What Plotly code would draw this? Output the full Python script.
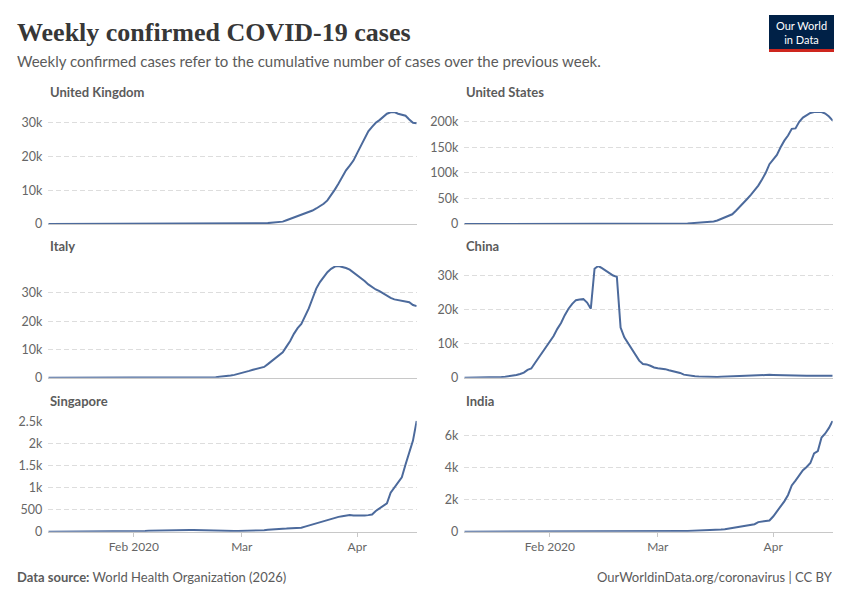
import plotly.graph_objects as go
import pandas as pd

# ---------------- data ----------------
dates = pd.date_range("2020-01-09", "2020-04-17").strftime("%Y-%m-%d").tolist()

united_kingdom = [
    0, 0, 0, 0, 0, 0, 0, 0, 0, 0,
    0, 0, 0, 0, 0, 0, 0, 0, 0, 0,
    0, 0, 2, 2, 2, 2, 2, 2, 2, 3,
    1, 1, 6, 6, 6, 6, 7, 1, 1, 1,
    0, 0, 0, 1, 1, 4, 9, 10, 15, 20,
    25, 30, 35, 40, 60, 80, 110, 160, 200, 270,
    330, 400, 480, 700, 1100, 1500, 2000, 2400, 2700, 3100,
    3500, 4000, 4600, 5200, 6000, 7000, 8500, 10200, 12000, 14000,
    15900, 17300, 18800, 21000, 23300, 25500, 27500, 28800, 30000, 30800,
    31700, 32700, 33100, 33200, 32700, 32300, 32100, 31000, 30000, 29900,
]
united_states = [
    0, 0, 0, 0, 0, 0, 0, 0, 0, 0,
    0, 0, 1, 1, 1, 1, 1, 2, 2, 3,
    4, 4, 5, 5, 6, 6, 7, 7, 7, 6,
    6, 7, 7, 8, 7, 7, 7, 6, 6, 6,
    8, 8, 8, 10, 10, 20, 40, 50, 55, 55,
    60, 40, 50, 70, 100, 150, 250, 400, 600, 900,
    1200, 1600, 2000, 2400, 2800, 3100, 3700, 5000, 6800, 9500,
    12500, 15500, 19000, 26000, 33000, 41000, 49000, 57000, 65000, 75000,
    87000, 100000, 117000, 125000, 135000, 150000, 163000, 173000, 186000, 187000,
    200000, 208000, 213000, 217000, 219000, 219000, 219000, 216000, 210000, 202000,
]
italy = [
    0, 0, 0, 0, 0, 0, 0, 0, 0, 0,
    0, 0, 0, 0, 0, 0, 0, 0, 0, 0,
    0, 0, 0, 2, 2, 2, 2, 2, 2, 2,
    3, 3, 3, 3, 3, 3, 3, 1, 1, 1,
    0, 0, 0, 20, 60, 150, 300, 400, 600, 800,
    1000, 1300, 1600, 2000, 2400, 2800, 3100, 3500, 3800, 4800,
    5800, 6800, 7800, 9000, 11000, 13000, 15500, 17500, 19000, 21500,
    24500, 28000, 31500, 33800, 35500, 37300, 38500, 39300, 39500, 39200,
    38800, 38200, 37200, 36500, 35300, 34200, 33000, 32000, 31200, 30600,
    29700, 28800, 28200, 27700, 27500, 27300, 26900, 26700, 25700, 25300,
]
china = [
    0, 0, 0, 0, 0, 0, 0, 10, 20, 30,
    200, 290, 400, 550, 800, 1100, 1500, 2300, 2700, 4300,
    5900, 7400, 9000, 10600, 12200, 14300, 16000, 18300, 20200, 21600,
    22700, 22900, 23000, 22000, 20200, 31900, 32700, 32100, 31400, 30600,
    29900, 29500, 14700, 11800, 10000, 8300, 6500, 5000, 4000, 3900,
    3500, 3000, 2800, 2700, 2500, 2200, 2000, 1800, 1400, 900,
    700, 550, 450, 380, 320, 250, 200, 180, 200, 250,
    300, 350, 400, 500, 580, 650, 720, 780, 820, 850,
    870, 860, 840, 800, 750, 700, 640, 600, 570, 550,
    540, 540, 560, 580, 600, 600, 590, 580, 560, 540,
]
singapore = [
    0, 0, 0, 0, 0, 0, 0, 0, 0, 0,
    0, 0, 0, 0, 1, 3, 4, 7, 10, 13,
    13, 15, 15, 15, 14, 12, 16, 21, 24, 27,
    30, 32, 33, 33, 30, 35, 38, 40, 40, 38,
    35, 30, 25, 20, 18, 15, 13, 12, 12, 13,
    14, 14, 15, 15, 16, 18, 20, 25, 35, 45,
    55, 60, 65, 68, 70, 72, 76, 80, 90, 115,
    140, 165, 190, 215, 240, 270, 295, 315, 335, 350,
    365, 380, 368, 365, 362, 365, 375, 390, 470, 520,
    580, 640, 880, 1000, 1100, 1230, 1520, 1780, 2060, 2510,
]
india = [
    0, 0, 0, 0, 0, 0, 0, 0, 0, 0,
    0, 0, 0, 0, 0, 0, 0, 0, 0, 0,
    0, 0, 1, 1, 2, 3, 3, 3, 3, 2,
    2, 1, 0, 0, 0, 0, 0, 0, 0, 0,
    0, 0, 0, 0, 0, 0, 0, 0, 0, 0,
    0, 0, 2, 5, 20, 25, 28, 35, 40, 45,
    50, 55, 58, 60, 65, 75, 85, 100, 110, 130,
    150, 190, 230, 270, 320, 380, 430, 450, 470, 600,
    630, 640, 700, 950, 1250, 1550, 1900, 2300, 2900, 3200,
    3500, 3850, 4050, 4300, 4900, 5050, 5900, 6150, 6500, 6950,
]

countries = ["United Kingdom", "United States", "Italy", "China", "Singapore", "India"]
series = [united_kingdom, united_states, italy, china, singapore, india]
y_tick_values = [
    [0, 10000, 20000, 30000],
    [0, 50000, 100000, 150000, 200000],
    [0, 10000, 20000, 30000],
    [0, 10000, 20000, 30000],
    [0, 500, 1000, 1500, 2000, 2500],
    [0, 2000, 4000, 6000],
]
y_tick_labels = [
    ["0", "10k", "20k", "30k"],
    ["0", "50k", "100k", "150k", "200k"],
    ["0", "10k", "20k", "30k"],
    ["0", "10k", "20k", "30k"],
    ["0", "500", "1k", "1.5k", "2k", "2.5k"],
    ["0", "2k", "4k", "6k"],
]
x_tick_dates = ["2020-02-01", "2020-03-01", "2020-04-01"]
x_tick_labels = ["Feb 2020", "Mar", "Apr"]

# ---------------- layout helpers ----------------
W, H = 850, 600
def fx(p):
    return p / W
def fy(p):
    return 1 - p / H

col_px = [(48.3, 416.7), (464.3, 832.7)]
row_px = [(112, 224), (266, 377.7), (420.7, 531.7)]

LINE = "#4c6a9c"
FONT = "Lato"

fig = go.Figure()
annotations = []
layout_axes = {}

for i, (name, vals) in enumerate(zip(countries, series)):
    r, c = divmod(i, 2)
    n = i + 1
    xa = "x" if n == 1 else f"x{n}"
    ya = "y" if n == 1 else f"y{n}"
    fig.add_trace(go.Scatter(
        x=dates, y=vals, mode="lines",
        line=dict(color=LINE, width=2),
        xaxis=xa, yaxis=ya, showlegend=False,
        hoverinfo="skip",
    ))
    bottom = r == 2
    xkey = "xaxis" if n == 1 else f"xaxis{n}"
    ykey = "yaxis" if n == 1 else f"yaxis{n}"
    layout_axes[xkey] = dict(
        domain=[fx(col_px[c][0]), fx(col_px[c][1])],
        anchor=ya,
        range=[dates[0], dates[-1]],
        showgrid=False, zeroline=False,
        showline=True, linecolor="#c8c8c8", linewidth=1,
        layer="below traces",
        tickmode="array", tickvals=x_tick_dates, ticktext=x_tick_labels,
        showticklabels=bottom,
        ticks="outside" if bottom else "",
        ticklen=4, tickcolor="#c8c8c8",
        tickfont=dict(family=FONT, size=12, color="#666666"),
        automargin=False,
        fixedrange=True,
    )
    layout_axes[ykey] = dict(
        domain=[fy(row_px[r][1]), fy(row_px[r][0])],
        anchor=xa,
        range=[0, max(vals)],
        tickmode="array", tickvals=y_tick_values[i], ticktext=y_tick_labels[i],
        showgrid=True, gridcolor="#dddddd", gridwidth=1, griddash="5px,3px",
        zeroline=False, showline=False, ticks="",
        ticklabelstandoff=5,
        tickfont=dict(family=FONT, size=12.5, color="#666666"),
        automargin=False,
        fixedrange=True,
    )
    annotations.append(dict(
        text=f"<b>{name}</b>", xref="paper", yref="paper",
        x=fx(col_px[c][0]), y=fy(row_px[r][0] - 20),
        xanchor="left", yanchor="middle", showarrow=False,
        font=dict(family=FONT, size=13, color="#5b5b5b"),
    ))

# header & footer
annotations += [
    dict(text="Weekly confirmed COVID-19 cases", xref="paper", yref="paper",
         x=fx(15), y=fy(32), xanchor="left", yanchor="middle", showarrow=False,
         font=dict(family="Liberation Serif", size=26, color="#373737", weight=600)),
    dict(text="Weekly confirmed cases refer to the cumulative number of cases over the previous week.",
         xref="paper", yref="paper", x=fx(15), y=fy(61), xanchor="left", yanchor="middle",
         showarrow=False, font=dict(family=FONT, size=15, color="#5b5b5b")),
    dict(text="<b>Data source:</b> World Health Organization (2026)", xref="paper", yref="paper",
         x=fx(15), y=fy(577), xanchor="left", yanchor="middle", showarrow=False,
         font=dict(family=FONT, size=13, color="#5b5b5b")),
    dict(text="OurWorldinData.org/coronavirus | CC BY", xref="paper", yref="paper",
         x=fx(835), y=fy(577), xanchor="right", yanchor="middle", showarrow=False,
         font=dict(family=FONT, size=13, color="#5b5b5b")),
    dict(text="Our World<br>in Data", xref="paper", yref="paper",
         x=fx(801.5), y=fy(32), xanchor="center", yanchor="middle", showarrow=False,
         font=dict(family=FONT, size=11, color="white"), align="center"),
]

shapes = [
    dict(type="rect", xref="paper", yref="paper", x0=fx(769), x1=fx(834), y0=fy(49), y1=fy(15),
         fillcolor="#002147", line=dict(width=0), layer="above"),
    dict(type="rect", xref="paper", yref="paper", x0=fx(769), x1=fx(834), y0=fy(52), y1=fy(49),
         fillcolor="#ce261e", line=dict(width=0), layer="above"),
]

fig.update_layout(
    width=W, height=H,
    margin=dict(l=0, r=0, t=0, b=0, autoexpand=False),
    paper_bgcolor="white", plot_bgcolor="white",
    annotations=annotations, shapes=shapes,
    font=dict(family=FONT),
    **layout_axes,
)

fig.write_html(
    "out.html",
    config={"displayModeBar": False, "responsive": False},
    post_script="document.documentElement.style.margin='0';document.body.style.margin='0';"
                "document.body.style.padding='0';document.body.style.overflow='hidden';",
)
